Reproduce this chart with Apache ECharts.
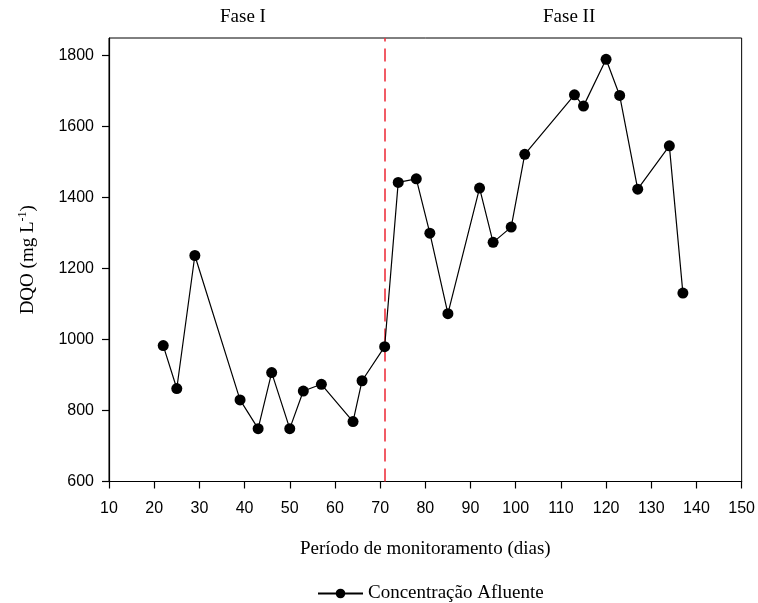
<!DOCTYPE html>
<html>
<head>
<meta charset="utf-8">
<script src="https://cdn.jsdelivr.net/npm/echarts@6/dist/echarts.min.js"></script>
<style>
html,body{margin:0;padding:0;background:#fff;}
#main{width:758px;height:603px;}
</style>
</head>
<body>
<div id="main"></div>
<script>
var days = [22, 25, 29, 39, 43, 46, 50, 53, 57, 64, 66, 71, 74, 78, 81, 85, 92, 95, 99, 102, 113, 115, 120, 123, 127, 134, 137];
var dqo  = [983, 862, 1237, 830, 749, 907, 749, 855, 874, 769, 884, 980, 1443, 1453, 1300, 1073, 1427, 1274, 1317, 1522, 1690, 1658, 1790, 1688, 1424, 1546, 1131];
var phaseBoundary = 71;
var phaseLabels = ['Fase I', 'Fase II'];
var seriesName = 'Concentração Afluente';
var xTitle = 'Período de monitoramento (dias)';

var chart = echarts.init(document.getElementById('main'), null, {renderer: 'canvas'});
var serif = '"Liberation Serif", "Times New Roman", serif';
var sans = '"Liberation Sans", Arial, sans-serif';

var option = {
  animation: false,
  backgroundColor: '#fff',
  grid: {left: 109, right: 16, top: 38, bottom: 121.5, show: true, borderColor: '#000', borderWidth: 1, backgroundColor: 'transparent'},
  graphic: [
    {type: 'text', left: 244 - 24, top: 8, style: {text: phaseLabels[0], font: '19px ' + serif, fill: '#000'}},
    {type: 'text', left: 570 - 27, top: 8, style: {text: phaseLabels[1], font: '19px ' + serif, fill: '#000'}}
  ],
  legend: {
    left: 312, top: 579,
    itemWidth: 45, itemHeight: 12,
    itemGap: 10,
    textStyle: {fontFamily: serif, fontSize: 19, color: '#000'},
    data: [seriesName]
  },
  xAxis: {
    type: 'value', min: 10, max: 150, interval: 10,
    name: xTitle, nameLocation: 'middle', nameGap: 58,
    nameTextStyle: {fontFamily: serif, fontSize: 19, color: '#000'},
    axisLine: {show: true, lineStyle: {color: '#000', width: 1.2}},
    axisTick: {show: true, inside: false, length: 7, lineStyle: {color: '#000', width: 1.2}},
    axisLabel: {fontFamily: sans, fontSize: 16, color: '#000', margin: 19},
    splitLine: {show: false}
  },
  yAxis: {
    type: 'value', min: 600, max: 1850, interval: 200,
    name: '{a|DQO (mg L}{b|-1}{a|)}', nameLocation: 'middle', nameGap: 70, nameRotate: 90,
    nameTextStyle: {rich: {
      a: {fontFamily: serif, fontSize: 19, color: '#000'},
      b: {fontFamily: serif, fontSize: 12, color: '#000', verticalAlign: 'top', padding: [0, 0, 10, 0]}
    }},
    axisLine: {show: true, lineStyle: {color: '#000', width: 1.2}},
    axisTick: {show: true, inside: false, length: 7, lineStyle: {color: '#000', width: 1.2}},
    axisLabel: {fontFamily: sans, fontSize: 16, color: '#000', margin: 15,
      showMaxLabel: false,
      formatter: function (v) { return v % 200 === 0 ? String(v) : ''; }},
    splitLine: {show: false}
  },
  series: [{
    name: seriesName,
    type: 'line',
    data: days.map(function (d, i) { return [d, dqo[i]]; }),
    symbol: 'circle', symbolSize: 11,
    itemStyle: {color: '#000'},
    lineStyle: {color: '#000', width: 1.2},
    z: 3,
    markLine: {
      silent: true, symbol: ['none', 'none'],
      label: {show: false},
      lineStyle: {color: '#ee3340', width: 1.6, type: [13, 7]},
      data: [{xAxis: phaseBoundary}],
      z: 1
    }
  }]
};
chart.setOption(option);
</script>
</body>
</html>
